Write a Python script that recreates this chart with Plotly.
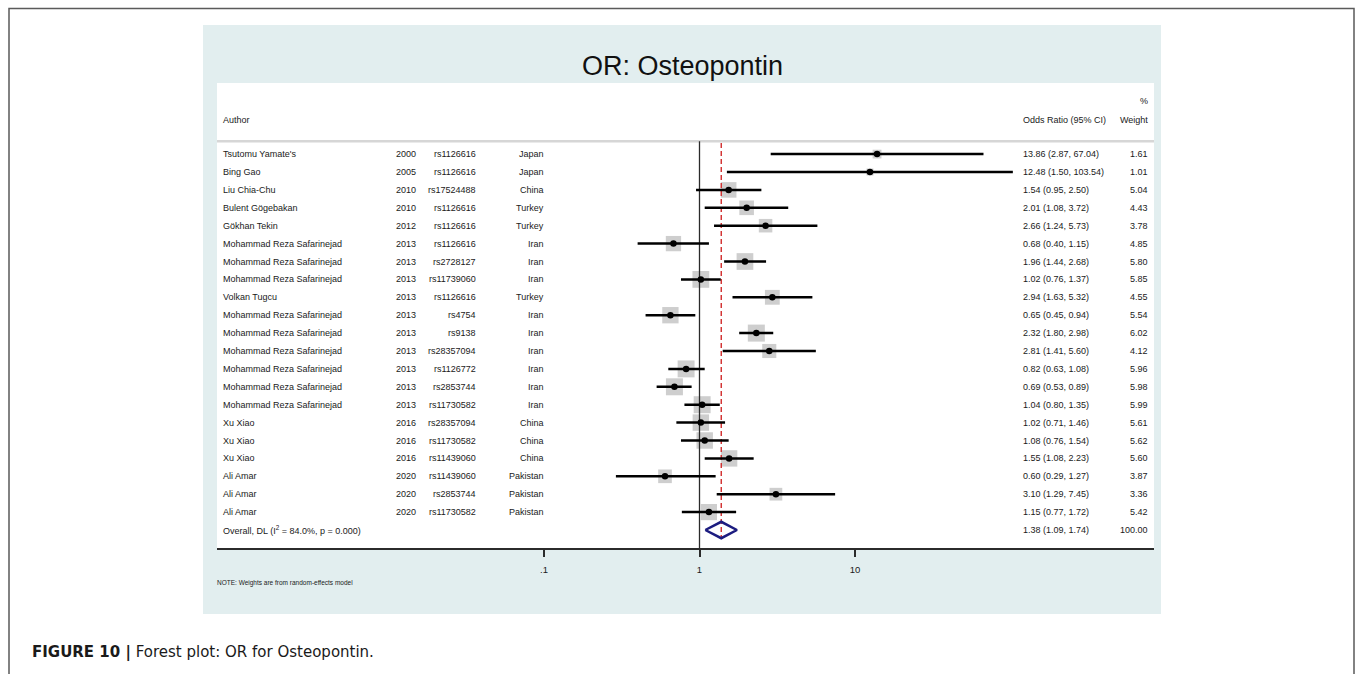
import math
import plotly.graph_objects as go

# ---- study data ----
authors = ["Tsutomu Yamate's", "Bing Gao", "Liu Chia-Chu", "Bulent Gögebakan", "Gökhan Tekin",
           "Mohammad Reza Safarinejad", "Mohammad Reza Safarinejad", "Mohammad Reza Safarinejad",
           "Volkan Tugcu", "Mohammad Reza Safarinejad", "Mohammad Reza Safarinejad",
           "Mohammad Reza Safarinejad", "Mohammad Reza Safarinejad", "Mohammad Reza Safarinejad",
           "Mohammad Reza Safarinejad", "Xu Xiao", "Xu Xiao", "Xu Xiao", "Ali Amar", "Ali Amar", "Ali Amar"]
years = [2000, 2005, 2010, 2010, 2012, 2013, 2013, 2013, 2013, 2013, 2013, 2013, 2013, 2013, 2013,
         2016, 2016, 2016, 2020, 2020, 2020]
snps = ["rs1126616", "rs1126616", "rs17524488", "rs1126616", "rs1126616", "rs1126616", "rs2728127",
        "rs11739060", "rs1126616", "rs4754", "rs9138", "rs28357094", "rs1126772", "rs2853744",
        "rs11730582", "rs28357094", "rs11730582", "rs11439060", "rs11439060", "rs2853744", "rs11730582"]
countries = ["Japan", "Japan", "China", "Turkey", "Turkey", "Iran", "Iran", "Iran", "Turkey", "Iran",
             "Iran", "Iran", "Iran", "Iran", "Iran", "China", "China", "China", "Pakistan", "Pakistan", "Pakistan"]
odds = [13.86, 12.48, 1.54, 2.01, 2.66, 0.68, 1.96, 1.02, 2.94, 0.65, 2.32, 2.81, 0.82, 0.69, 1.04,
        1.02, 1.08, 1.55, 0.60, 3.10, 1.15]
ci_low = [2.87, 1.50, 0.95, 1.08, 1.24, 0.40, 1.44, 0.76, 1.63, 0.45, 1.80, 1.41, 0.63, 0.53, 0.80,
          0.71, 0.76, 1.08, 0.29, 1.29, 0.77]
ci_high = [67.04, 103.54, 2.50, 3.72, 5.73, 1.15, 2.68, 1.37, 5.32, 0.94, 2.98, 5.60, 1.08, 0.89, 1.35,
           1.46, 1.54, 2.23, 1.27, 7.45, 1.72]
weights = [1.61, 1.01, 5.04, 4.43, 3.78, 4.85, 5.80, 5.85, 4.55, 5.54, 6.02, 4.12, 5.96, 5.98, 5.99,
           5.61, 5.62, 5.60, 3.87, 3.36, 5.42]

overall_label = "Overall, DL (I<sup>2</sup> = 84.0%, p = 0.000)"
overall_or, overall_lo, overall_hi, overall_w = 1.38, 1.09, 1.74, 100.00

tick_vals = [0.1, 1, 10]
tick_text = [".1", "1", "10"]

# ---- page geometry (pixels) ----
W, H = 1357, 674
PL, PR, PT, PB = 217, 1154, 83, 548          # plot (white) area
ROW0, ROWH = 154.1, 17.9                      # first row centre, row pitch
PX_ONE, PX_DEC = 699.5, 155.5                 # x pixel of OR=1, pixels per decade

def px_x(px):
    return (px - PL) / (PR - PL)

def px_y(py):
    return (PB - py) / (PB - PT)

def row_of(py):
    return (py - ROW0) / ROWH

n = len(authors)
rows = list(range(n))
overall_row = n

FONT = "Liberation Sans, Arial, sans-serif"
TXT = "#1a1a1a"

fig = go.Figure()

# weight boxes
box_side = [17.0 * math.sqrt(w / 6.0) for w in weights]
fig.add_trace(go.Scatter(x=odds, y=rows, mode="markers",
                         marker=dict(symbol="square", size=box_side, color="#b9b9b9",
                                     line=dict(width=0)),
                         hoverinfo="skip", showlegend=False))

# reference line at OR = 1
fig.add_trace(go.Scatter(x=[1, 1], y=[row_of(141.3), row_of(PB)], mode="lines",
                         line=dict(color="#2b2b2b", width=1.3), hoverinfo="skip", showlegend=False))

# pooled estimate line
fig.add_trace(go.Scatter(x=[overall_or, overall_or], y=[row_of(143), row_of(538.5)], mode="lines",
                         line=dict(color="#d12c2c", width=1.4, dash="5px,3px"),
                         hoverinfo="skip", showlegend=False))

# confidence intervals
ci_x, ci_y = [], []
for r, lo, hi in zip(rows, ci_low, ci_high):
    ci_x += [lo, hi, None]
    ci_y += [r, r, None]
fig.add_trace(go.Scatter(x=ci_x, y=ci_y, mode="lines", line=dict(color="black", width=2.5),
                         hoverinfo="skip", showlegend=False))

# point estimates
fig.add_trace(go.Scatter(x=odds, y=rows, mode="markers",
                         marker=dict(symbol="circle", size=6.5, color="black"),
                         hoverinfo="skip", showlegend=False))

# overall diamond
dh = 0.46
fig.add_trace(go.Scatter(x=[overall_lo, overall_or, overall_hi, overall_or, overall_lo],
                         y=[overall_row, overall_row - dh, overall_row, overall_row + dh, overall_row],
                         mode="lines", line=dict(color="#1c1c80", width=2.5),
                         hoverinfo="skip", showlegend=False))

annotations = []

def txt(xpx, yrow, text, anchor, size=9.0, color=TXT):
    annotations.append(dict(x=px_x(xpx), xref="paper", y=yrow, yref="y", text=text,
                            xanchor=anchor, yanchor="middle", showarrow=False,
                            font=dict(family=FONT, size=size, color=color), borderpad=0))

# header
txt(222, row_of(119.5), "Author", "left")
txt(1022, row_of(119.5), "Odds Ratio (95% CI)", "left")
txt(1149, row_of(119.5), "Weight", "right")
txt(1149, row_of(101), "%", "right")

for r in rows:
    txt(222, r, authors[r], "left")
    txt(417, r, str(years[r]), "right")
    txt(477, r, snps[r], "right")
    txt(545, r, countries[r], "right")
    txt(1022, r, f"{odds[r]:.2f} ({ci_low[r]:.2f}, {ci_high[r]:.2f})", "left")
    txt(1149, r, f"{weights[r]:.2f}", "right")

txt(222, overall_row, overall_label, "left")
txt(1022, overall_row, f"{overall_or:.2f} ({overall_lo:.2f}, {overall_hi:.2f})", "left")
txt(1149, overall_row, f"{overall_w:.2f}", "right")

# title, footnote, caption
annotations.append(dict(x=px_x(682), xref="paper", y=px_y(66), yref="paper", text="OR: Osteopontin",
                        xanchor="center", yanchor="middle", showarrow=False,
                        font=dict(family=FONT, size=27, color="#111111")))
annotations.append(dict(x=px_x(216), xref="paper", y=px_y(583), yref="paper",
                        text="NOTE: Weights are from random-effects model",
                        xanchor="left", yanchor="middle", showarrow=False, borderpad=0,
                        font=dict(family=FONT, size=6.5, color=TXT)))
annotations.append(dict(x=px_x(31), xref="paper", y=px_y(652), yref="paper",
                        text="<b>FIGURE 10 |</b> Forest plot: OR for Osteopontin.",
                        xanchor="left", yanchor="middle", showarrow=False, borderpad=0,
                        font=dict(family="DejaVu Sans, sans-serif", size=15, color="#1a1a1a")))

shapes = [
    # outer frame
    dict(type="rect", xref="paper", yref="paper", x0=px_x(9), x1=px_x(1354), y0=px_y(700), y1=px_y(8.5),
         line=dict(color="#5a5a5a", width=1.5), fillcolor="rgba(0,0,0,0)", layer="below"),
    # graph region
    dict(type="rect", xref="paper", yref="paper", x0=px_x(203), x1=px_x(1161), y0=px_y(614), y1=px_y(25),
         line=dict(width=0), fillcolor="#e2eeef", layer="below"),
    # plot region
    dict(type="rect", xref="paper", yref="paper", x0=0, x1=1, y0=0, y1=1,
         line=dict(width=0), fillcolor="white", layer="below"),
    # header rule
    dict(type="line", xref="paper", yref="y", x0=0, x1=1, y0=row_of(141.3), y1=row_of(141.3),
         line=dict(color="#d6d6d6", width=2.5), layer="below"),
]

fig.update_layout(
    width=W, height=H,
    margin=dict(l=PL, r=W - PR, t=PT, b=H - PB, pad=0),
    paper_bgcolor="white", plot_bgcolor="white",
    showlegend=False,
    annotations=annotations, shapes=shapes,
    xaxis=dict(type="log",
               range=[(PL - PX_ONE) / PX_DEC, (PR - PX_ONE) / PX_DEC],
               tickvals=tick_vals, ticktext=tick_text,
               ticks="outside", ticklen=7, tickwidth=2, tickcolor="#2b2b2b",
               showline=True, linecolor="#2b2b2b", linewidth=2,
               showgrid=False, zeroline=False, ticklabelstandoff=5,
               tickfont=dict(family=FONT, size=9.5, color=TXT), fixedrange=True),
    yaxis=dict(range=[row_of(PB), row_of(PT)], visible=False, showgrid=False, zeroline=False,
               fixedrange=True),
)

fig.write_html("out.html")
